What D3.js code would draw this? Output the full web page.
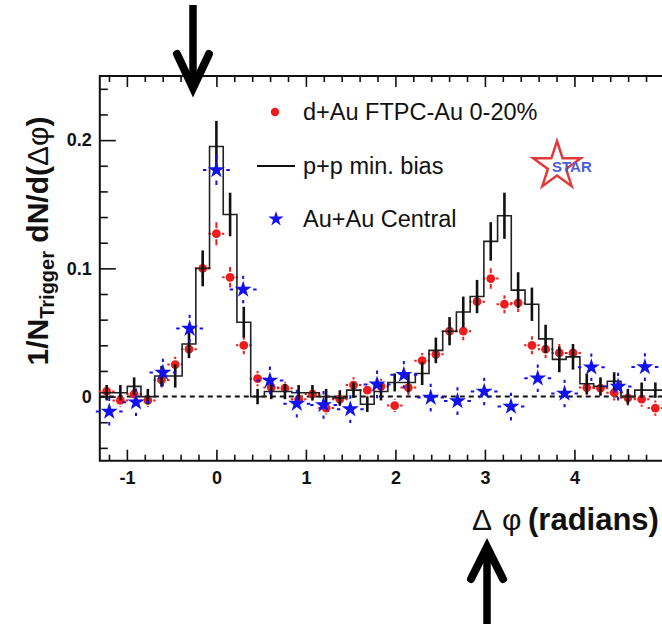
<!DOCTYPE html>
<html>
<head>
<meta charset="utf-8">
<script src="https://cdn.jsdelivr.net/npm/d3@7"></script>
<style>
body { margin: 0; background: #fff; }
svg { display: block; font-family: "Liberation Sans", Arial, Helvetica, sans-serif; }
</style>
</head>
<body>
<div id="chart"></div>
<script>
//Narrow bins: d+Au points and p+p histogram share them
var dphiNarrow = [-1.226, -1.073, -0.919, -0.766, -0.613, -0.460, -0.306, -0.153, 0, 0.153, 0.306,
    0.460, 0.613, 0.766, 0.919, 1.073, 1.226, 1.379, 1.532, 1.686, 1.839, 1.992, 2.145, 2.299,
    2.452, 2.605, 2.758, 2.912, 3.065, 3.218, 3.371, 3.525, 3.678, 3.831, 3.984, 4.138, 4.291,
    4.444, 4.597, 4.751, 4.904];
var narrowHalfWidth = 0.0766;

//d+Au FTPC-Au 0-20%
var dAuValues = [0.004, -0.003, 0.002, -0.003, 0.013, 0.025, 0.037, 0.100, 0.127, 0.093, 0.040,
    0.014, 0.007, 0.0065, -0.002, 0.002, -0.009, -0.002, 0.009, 0.005, 0.008, -0.007, 0.007, 0.028,
    0.033, 0.051, 0.051, 0.074, 0.092, 0.072, 0.073, 0.040, 0.037, 0.034, 0.034, 0.007, 0.0065,
    0.003, -0.001, -0.002, -0.009];
var dAuErrors = [0.005, 0.005, 0.005, 0.005, 0.006, 0.006, 0.007, 0.008, 0.009, 0.008, 0.007,
    0.006, 0.005, 0.005, 0.005, 0.005, 0.005, 0.005, 0.006, 0.005, 0.006, 0.005, 0.006, 0.006,
    0.006, 0.007, 0.007, 0.007, 0.008, 0.007, 0.007, 0.007, 0.007, 0.007, 0.007, 0.006, 0.006,
    0.006, 0.006, 0.006, 0.006];

//p+p min. bias (histogram)
var ppValues = [0.003, 0.003, 0.008, 0.000, 0.016, 0.016, 0.041, 0.100, 0.195, 0.142, 0.058,
    0.000, 0.004, 0.004, 0.003, 0.003, 0.000, -0.001, 0.005, -0.006, 0.004, 0.011, 0.011, 0.018,
    0.036, 0.051, 0.066, 0.078, 0.121, 0.141, 0.083, 0.072, 0.045, 0.029, 0.031, 0.010, 0.008,
    0.012, 0.000, 0.005, 0.005];
var ppErrors = [0.006, 0.006, 0.007, 0.006, 0.008, 0.009, 0.011, 0.014, 0.020, 0.017, 0.012,
    0.006, 0.006, 0.006, 0.006, 0.006, 0.006, 0.006, 0.006, 0.006, 0.007, 0.007, 0.008, 0.009,
    0.010, 0.011, 0.012, 0.013, 0.015, 0.018, 0.014, 0.013, 0.011, 0.010, 0.010, 0.008, 0.007,
    0.007, 0.006, 0.006, 0.006];

//Au+Au Central, wide bins
var dphiWide = [-1.197, -0.898, -0.598, -0.299, 0, 0.299, 0.598, 0.898, 1.197, 1.496, 1.795,
    2.094, 2.394, 2.693, 2.992, 3.291, 3.590, 3.890, 4.189, 4.488, 4.787];
var wideHalfWidth = 0.150;
var auauValues = [-0.0117, -0.0044, 0.0187, 0.053, 0.1767, 0.0835, 0.0126, -0.0055, -0.0065,
    -0.0098, 0.0095, 0.017, -0.0008, -0.0035, 0.004, -0.0078, 0.0143, 0.0024, 0.0229, 0.0078, 0.023];
var auauErrors = [0.010, 0.010, 0.010, 0.010, 0.011, 0.010, 0.010, 0.010, 0.010, 0.010, 0.010,
    0.010, 0.010, 0.010, 0.010, 0.010, 0.010, 0.010, 0.010, 0.010, 0.010];

//Axes
var xMajorTicks = [-1, 0, 1, 2, 3, 4];
var xMinorTicks = [-1.2, -0.8, -0.6, -0.4, -0.2, 0.2, 0.4, 0.6, 0.8, 1.2, 1.4, 1.6, 1.8, 2.2, 2.4,
    2.6, 2.8, 3.2, 3.4, 3.6, 3.8, 4.2, 4.4, 4.6, 4.8];
var yMajorTicks = [0, 0.1, 0.2];
var yMinorTicks = [-0.04, -0.02, 0.02, 0.04, 0.06, 0.08, 0.12, 0.14, 0.16, 0.18, 0.22, 0.24];
var legendLabels = ["d+Au FTPC-Au 0-20%", "p+p min. bias", "Au+Au Central"];

//Colors
var colorRed = "#ee1c1c";
var colorBlue = "#1212ee";
var colorBlack = "#111";

var width = 662, height = 624;
var plotLeft = 99.8, plotRight = 662.2, plotTop = 76, plotBottom = 460.7;

var svg = d3.select("#chart").append("svg")
    .attr("width", width)
    .attr("height", height);
svg.append("rect").attr("width", width).attr("height", height).attr("fill", "#fff");

var x = d3.scaleLinear().domain([-1.3026, 4.9806]).range([plotLeft, plotRight]);
var y = d3.scaleLinear().domain([-0.05, 0.25]).range([plotBottom, plotTop]);

function fmt(d) { return d < 0 ? "-" + Math.abs(d) : String(d); }

//Axes: ticks point into the frame
function styleAxis(g) {
    g.select(".domain").remove();
    g.selectAll(".tick line").attr("stroke", colorBlack).attr("stroke-width", 1.6);
    g.selectAll(".tick text").attr("fill", colorBlack).attr("font-size", 18).attr("font-weight", "bold");
}

svg.append("g").attr("transform", "translate(0," + plotBottom + ")")
    .call(d3.axisBottom(x).tickValues(xMajorTicks).tickSize(-11).tickPadding(11).tickFormat(fmt))
    .call(styleAxis);
svg.append("g").attr("transform", "translate(0," + plotBottom + ")")
    .call(d3.axisBottom(x).tickValues(xMinorTicks).tickSize(-6).tickFormat(""))
    .call(styleAxis);
svg.append("g").attr("transform", "translate(0," + plotTop + ")")
    .call(d3.axisTop(x).tickValues(xMajorTicks).tickSize(-11).tickFormat(""))
    .call(styleAxis);
svg.append("g").attr("transform", "translate(0," + plotTop + ")")
    .call(d3.axisTop(x).tickValues(xMinorTicks).tickSize(-6).tickFormat(""))
    .call(styleAxis);
svg.append("g").attr("transform", "translate(" + plotLeft + ",0)")
    .call(d3.axisLeft(y).tickValues(yMajorTicks).tickSize(-16).tickPadding(8).tickFormat(fmt))
    .call(styleAxis);
svg.append("g").attr("transform", "translate(" + plotLeft + ",0)")
    .call(d3.axisLeft(y).tickValues(yMinorTicks).tickSize(-8).tickFormat(""))
    .call(styleAxis);

//Frame
svg.append("path")
    .attr("d", "M" + plotRight + "," + plotTop + "H" + plotLeft + "V" + plotBottom + "H" + plotRight)
    .attr("fill", "none").attr("stroke", colorBlack).attr("stroke-width", 2);

//Zero line
svg.append("line")
    .attr("x1", plotLeft).attr("x2", plotRight)
    .attr("y1", y(0)).attr("y2", y(0))
    .attr("stroke", colorBlack).attr("stroke-width", 2).attr("stroke-dasharray", "5,4");

var plot = svg.append("g");

//d+Au points with error bars
var red = plot.append("g");
dphiNarrow.forEach(function (phi, i) {
    var cx = x(phi), cy = y(dAuValues[i]);
    var up = y(dAuValues[i] + dAuErrors[i]), down = y(dAuValues[i] - dAuErrors[i]);
    var xl = x(phi - narrowHalfWidth), xr = x(phi + narrowHalfWidth);
    red.append("path")
        .attr("d", "M" + cx + "," + up + "V" + (cy - 5.5) + "M" + cx + "," + (cy + 5.5) + "V" + down +
            "M" + (xl - 1) + "," + cy + "H" + (cx - 5.5) + "M" + (cx + 5.5) + "," + cy + "H" + (xr + 1))
        .attr("stroke", colorRed).attr("stroke-width", 2).attr("fill", "none");
    red.append("circle").attr("cx", cx).attr("cy", cy).attr("r", 4.4).attr("fill", colorRed);
});

//p+p histogram
var stepPoints = dphiNarrow.map(function (phi, i) { return [phi - narrowHalfWidth, ppValues[i]]; });
stepPoints.push([dphiNarrow[dphiNarrow.length - 1] + narrowHalfWidth, ppValues[ppValues.length - 1]]);
plot.append("path")
    .attr("d", d3.line().x(function (d) { return x(d[0]); }).y(function (d) { return y(d[1]); })
        .curve(d3.curveStepAfter)(stepPoints))
    .attr("fill", "none").attr("stroke", "#222").attr("stroke-width", 1.6);
plot.append("g").selectAll("line").data(dphiNarrow).join("line")
    .attr("x1", function (d) { return x(d); })
    .attr("x2", function (d) { return x(d); })
    .attr("y1", function (d, i) { return y(ppValues[i] + ppErrors[i]); })
    .attr("y2", function (d, i) { return y(ppValues[i] - ppErrors[i]); })
    .attr("stroke", colorBlack).attr("stroke-width", 2.6);

//Au+Au stars
var starSize = 9 * 9 / 0.8908130915292852;
var star = d3.symbol().type(d3.symbolStar).size(starSize);
var blue = plot.append("g");
dphiWide.forEach(function (phi, i) {
    var cx = x(phi), cy = y(auauValues[i]);
    var up = y(auauValues[i] + auauErrors[i]), down = y(auauValues[i] - auauErrors[i]);
    var xl = x(phi - wideHalfWidth), xr = x(phi + wideHalfWidth);
    blue.append("path")
        .attr("d", "M" + cx + "," + (up - 1) + "V" + (cy - 10.5) + "M" + cx + "," + (cy + 10.5) + "V" + (down + 1) +
            "M" + xl + "," + cy + "H" + (cx - 10) + "M" + (cx + 10) + "," + cy + "H" + xr)
        .attr("stroke", colorBlue).attr("stroke-width", 2).attr("fill", "none");
    blue.append("path").attr("d", star).attr("transform", "translate(" + cx + "," + cy + ")")
        .attr("fill", colorBlue);
});

//Legend
var legend = svg.append("g");
legend.append("circle").attr("cx", 275).attr("cy", 112).attr("r", 4.2).attr("fill", colorRed);
legend.append("line").attr("x1", 257).attr("x2", 295).attr("y1", 166).attr("y2", 166)
    .attr("stroke", colorBlack).attr("stroke-width", 2);
legend.append("path").attr("d", d3.symbol().type(d3.symbolStar).size(8 * 8 / 0.8908130915292852))
    .attr("transform", "translate(276,219)").attr("fill", colorBlue);
legend.selectAll("text").data(legendLabels).join("text")
    .attr("x", 303)
    .attr("y", function (d, i) { return 120 + i * 53.5; })
    .attr("font-size", 23.5)
    .attr("fill", colorBlack)
    .text(function (d) { return d; });

//STAR logo
svg.append("path").attr("d", d3.symbol().type(d3.symbolStar).size(25 * 25 / 0.8908130915292852))
    .attr("transform", "translate(557,166)")
    .attr("fill", "none").attr("stroke", "#e23a3a").attr("stroke-width", 2.5);
svg.append("text").attr("x", 552).attr("y", 172).attr("font-size", 15).attr("font-weight", "bold")
    .attr("fill", "#4b5cd6").text("STAR");

//Axis titles
var yTitle = svg.append("text")
    .attr("transform", "translate(48,241) rotate(-90)")
    .attr("text-anchor", "middle")
    .attr("font-size", 30).attr("font-weight", "bold").attr("fill", colorBlack);
yTitle.append("tspan").text("1/N");
yTitle.append("tspan").attr("font-size", 20).attr("dy", 6).text("Trigger");
yTitle.append("tspan").attr("dy", -6).text(" dN/d(");
yTitle.append("tspan").attr("font-weight", "normal").text("\u0394\u03c6");
yTitle.append("tspan").text(")");

svg.append("text").attr("x", 472).attr("y", 530).attr("font-size", 30).attr("fill", colorBlack).text("\u0394");
svg.append("text").attr("x", 502).attr("y", 530).attr("font-size", 30).attr("fill", colorBlack).text("\u03c6");
svg.append("text").attr("x", 528).attr("y", 530).attr("font-size", 31).attr("font-weight", "bold")
    .attr("fill", colorBlack).text("(radians)");

//Arrows
function arrow(shaft, head) {
    svg.append("path").attr("d", d3.line()(shaft))
        .attr("stroke", "#000").attr("stroke-width", 7.5).attr("fill", "none");
    svg.append("path").attr("d", d3.line()(head))
        .attr("stroke", "#000").attr("stroke-width", 8).attr("fill", "none")
        .attr("stroke-linecap", "round").attr("stroke-linejoin", "miter");
}
arrow([[193, 5], [193, 86]], [[177, 54], [193, 88], [209, 54]]);
arrow([[487, 552], [487, 624]], [[471, 579], [487, 547], [503, 579]]);
</script>
</body>
</html>
